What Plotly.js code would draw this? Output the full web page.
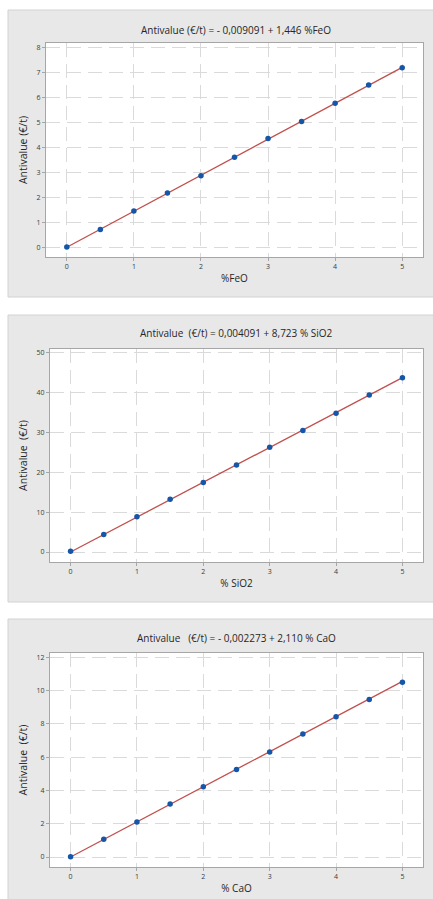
<!DOCTYPE html>
<html>
<head>
<meta charset="utf-8">
<script src="https://cdn.plot.ly/plotly-3.0.1.min.js"></script>
<style>html,body{margin:0;padding:0;background:#fff;}#chart{width:433px;height:899px;}</style>
</head>
<body>
<div id="chart"></div>
<script>
// ---- data ----
const xPct = [0, 0.5, 1, 1.5, 2, 2.5, 3, 3.5, 4, 4.5, 5];
const feoValues = [0, 0.71, 1.45, 2.17, 2.87, 3.61, 4.36, 5.05, 5.78, 6.51, 7.21];
const sio2Values = [0.2, 4.4, 8.8, 13.2, 17.4, 21.8, 26.2, 30.4, 34.7, 39.3, 43.6];
const caoValues = [0.02, 1.07, 2.1, 3.18, 4.22, 5.25, 6.3, 7.38, 8.42, 9.46, 10.5];
const fitX = [0, 5];
const feoFit = [-0.009, 7.221];
const sio2Fit = [0.004, 43.619];
const caoFit = [-0.002, 10.548];
const titles = [
  "Antivalue (€/t) = - 0,009091 + 1,446 %FeO",
  "Antivalue\u00a0 (€/t) = 0,004091 + 8,723 % SiO2",
  "Antivalue\u00a0\u00a0 (€/t) = - 0,002273 + 2,110 % CaO"
];
const yTitles = ["Antivalue (€/t)", "Antivalue\u00a0 (€/t)", "Antivalue\u00a0 (€/t)"];
const xTitles = ["%FeO", "% SiO2", "% CaO"];
const yTicks = [[0,1,2,3,4,5,6,7,8],[0,10,20,30,40,50],[0,2,4,6,8,10,12]];
const xTicks = [0,1,2,3,4,5];

// ---- layout geometry (pixels) ----
const W = 433, H = 899;
const px = v => v / W;
const py = v => 1 - v / H;
const panels = [
  {box:[8,10,440,297], plot:[46,43,423,257], yr:[-0.4,8.2], title:30, xt:281},
  {box:[8,315,440,602], plot:[50,349,423,562], yr:[-2.5,50.8], title:333, xt:585},
  {box:[8,619,440,905], plot:[50,653,423,867], yr:[-0.6,12.25], title:638, xt:890}
];
const series = [feoValues, sio2Values, caoValues];
const fits = [feoFit, sio2Fit, caoFit];

const FONT = "Open Sans, Noto Sans, sans-serif";
const TXT = "#262626";
const lineColor = "#c0504d";
const markerColor = "#1556a8";

const traces = [];
const layout = {
  width: W, height: H,
  margin: {l:0, r:0, t:0, b:0},
  paper_bgcolor: "#ffffff",
  plot_bgcolor: "rgba(0,0,0,0)",
  showlegend: false,
  font: {family: FONT, color: TXT},
  shapes: [], annotations: []
};

panels.forEach((p, i) => {
  const sfx = i === 0 ? "" : String(i + 1);
  const xa = "x" + sfx, ya = "y" + sfx;
  traces.push({
    x: fitX, y: fits[i], xaxis: xa, yaxis: ya, mode: "lines",
    line: {color: lineColor, width: 1.3}, hoverinfo: "skip"
  });
  traces.push({
    x: xPct, y: series[i], xaxis: xa, yaxis: ya, mode: "markers",
    marker: {color: markerColor, size: 5.5, symbol: "circle"}
  });
  const axisCommon = {
    showline: true, mirror: true, linecolor: "#a6a6a6", linewidth: 1,
    showgrid: true, gridcolor: "#dadada", griddash: "14px,7px", gridwidth: 1,
    zeroline: false, ticks: "outside", ticklen: 3, tickcolor: "#a6a6a6",
    tickfont: {size: 7, color: "#3a3a3a", family: FONT}
  };
  layout["xaxis" + sfx] = Object.assign({}, axisCommon, {
    domain: [px(p.plot[0]), px(p.plot[2])],
    anchor: ya, range: [-0.31, 5.31], tickvals: xTicks,
    title: {text: xTitles[i], font: {size: 10, color: TXT, family: FONT}, standoff: 4}
  });
  layout["yaxis" + sfx] = Object.assign({}, axisCommon, {
    domain: [py(p.plot[3]), py(p.plot[1])],
    anchor: xa, range: p.yr, tickvals: yTicks[i],
    title: {text: yTitles[i], font: {size: 10.5, color: TXT, family: FONT}, standoff: 6}
  });
  layout.shapes.push({
    type: "rect", xref: "paper", yref: "paper", layer: "below",
    x0: px(p.box[0]), x1: px(p.box[2]), y0: py(p.box[3]), y1: py(p.box[1]),
    fillcolor: "#e8e8e8", line: {color: "#d2d2d2", width: 1}
  });
  layout.shapes.push({
    type: "rect", xref: "paper", yref: "paper", layer: "below",
    x0: px(p.plot[0]), x1: px(p.plot[2]), y0: py(p.plot[3]), y1: py(p.plot[1]),
    fillcolor: "#ffffff", line: {width: 0}
  });
  layout.annotations.push({
    text: titles[i], xref: "paper", yref: "paper",
    x: px(236), y: py(p.title), xanchor: "center", yanchor: "middle",
    showarrow: false, font: {size: 10, color: TXT, family: FONT}
  });
});

Plotly.newPlot("chart", traces, layout, {displayModeBar: false, staticPlot: true});
</script>
</body>
</html>
